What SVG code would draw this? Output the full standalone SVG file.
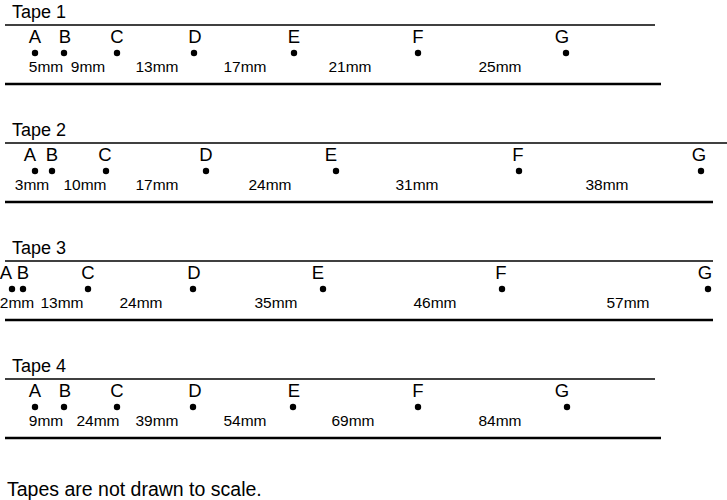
<svg xmlns="http://www.w3.org/2000/svg" width="727" height="500" viewBox="0 0 727 500">
<style>
text{font-family:"Liberation Sans",Arial,sans-serif;fill:#000}
.title{font-size:18px}
.pt{font-size:18.5px;text-anchor:middle}
.lab{font-size:15.5px;text-anchor:middle}
.top{stroke:#000;stroke-width:1.7;fill:none}
.bot{stroke:#000;stroke-width:2.4;fill:none}
.dot{fill:#000}
</style>
<rect width="727" height="500" fill="#fff"/>
<g id="tape1">
<text class="title" x="12" y="18">Tape 1</text>
<line class="top" x1="5" y1="25" x2="655" y2="25"/>
<line class="bot" x1="5" y1="84" x2="661" y2="84"/>
<g id="t1A"><text class="pt" x="35" y="43">A</text><circle class="dot" cx="35" cy="53" r="3.2"/></g>
<g id="t1B"><text class="pt" x="65" y="43">B</text><circle class="dot" cx="64" cy="53" r="3.2"/></g>
<g id="t1C"><text class="pt" x="117" y="43">C</text><circle class="dot" cx="117" cy="53" r="3.2"/></g>
<g id="t1D"><text class="pt" x="195" y="43">D</text><circle class="dot" cx="194" cy="53" r="3.2"/></g>
<g id="t1E"><text class="pt" x="294" y="43">E</text><circle class="dot" cx="294" cy="53" r="3.2"/></g>
<g id="t1F"><text class="pt" x="418" y="43">F</text><circle class="dot" cx="418" cy="53" r="3.2"/></g>
<g id="t1G"><text class="pt" x="562" y="43">G</text><circle class="dot" cx="566" cy="53" r="3.2"/></g>
<text class="lab" x="46" y="72">5mm</text>
<text class="lab" x="88" y="72">9mm</text>
<text class="lab" x="157" y="72">13mm</text>
<text class="lab" x="245" y="72">17mm</text>
<text class="lab" x="350" y="72">21mm</text>
<text class="lab" x="500" y="72">25mm</text>
</g>
<g id="tape2">
<text class="title" x="12" y="136">Tape 2</text>
<line class="top" x1="5" y1="143" x2="727" y2="143"/>
<line class="bot" x1="5" y1="202" x2="713" y2="202"/>
<g id="t2A"><text class="pt" x="30" y="161">A</text><circle class="dot" cx="35" cy="171" r="3.2"/></g>
<g id="t2B"><text class="pt" x="52" y="161">B</text><circle class="dot" cx="52" cy="171" r="3.2"/></g>
<g id="t2C"><text class="pt" x="105" y="161">C</text><circle class="dot" cx="106" cy="171" r="3.2"/></g>
<g id="t2D"><text class="pt" x="206" y="161">D</text><circle class="dot" cx="206" cy="171" r="3.2"/></g>
<g id="t2E"><text class="pt" x="331" y="161">E</text><circle class="dot" cx="336" cy="171" r="3.2"/></g>
<g id="t2F"><text class="pt" x="518" y="161">F</text><circle class="dot" cx="519" cy="171" r="3.2"/></g>
<g id="t2G"><text class="pt" x="699" y="161">G</text><circle class="dot" cx="701" cy="171" r="3.2"/></g>
<text class="lab" x="32" y="190">3mm</text>
<text class="lab" x="85" y="190">10mm</text>
<text class="lab" x="157" y="190">17mm</text>
<text class="lab" x="270" y="190">24mm</text>
<text class="lab" x="417" y="190">31mm</text>
<text class="lab" x="607" y="190">38mm</text>
</g>
<g id="tape3">
<text class="title" x="12" y="254">Tape 3</text>
<line class="top" x1="5" y1="261" x2="713" y2="261"/>
<line class="bot" x1="5" y1="320" x2="713" y2="320"/>
<g id="t3A"><text class="pt" x="6" y="279">A</text><circle class="dot" cx="12" cy="289" r="3.2"/></g>
<g id="t3B"><text class="pt" x="23" y="279">B</text><circle class="dot" cx="23" cy="289" r="3.2"/></g>
<g id="t3C"><text class="pt" x="88" y="279">C</text><circle class="dot" cx="88" cy="289" r="3.2"/></g>
<g id="t3D"><text class="pt" x="194" y="279">D</text><circle class="dot" cx="193" cy="289" r="3.2"/></g>
<g id="t3E"><text class="pt" x="318" y="279">E</text><circle class="dot" cx="323" cy="289" r="3.2"/></g>
<g id="t3F"><text class="pt" x="501" y="279">F</text><circle class="dot" cx="502" cy="289" r="3.2"/></g>
<g id="t3G"><text class="pt" x="705" y="279">G</text><circle class="dot" cx="708" cy="289" r="3.2"/></g>
<text class="lab" x="17" y="308">2mm</text>
<text class="lab" x="62" y="308">13mm</text>
<text class="lab" x="141" y="308">24mm</text>
<text class="lab" x="276" y="308">35mm</text>
<text class="lab" x="435" y="308">46mm</text>
<text class="lab" x="628" y="308">57mm</text>
</g>
<g id="tape4">
<text class="title" x="12" y="372">Tape 4</text>
<line class="top" x1="5" y1="379" x2="655" y2="379"/>
<line class="bot" x1="5" y1="438" x2="661" y2="438"/>
<g id="t4A"><text class="pt" x="35" y="397">A</text><circle class="dot" cx="35" cy="407" r="3.2"/></g>
<g id="t4B"><text class="pt" x="65" y="397">B</text><circle class="dot" cx="64" cy="407" r="3.2"/></g>
<g id="t4C"><text class="pt" x="117" y="397">C</text><circle class="dot" cx="117" cy="407" r="3.2"/></g>
<g id="t4D"><text class="pt" x="195" y="397">D</text><circle class="dot" cx="193" cy="407" r="3.2"/></g>
<g id="t4E"><text class="pt" x="294" y="397">E</text><circle class="dot" cx="293" cy="407" r="3.2"/></g>
<g id="t4F"><text class="pt" x="418" y="397">F</text><circle class="dot" cx="418" cy="407" r="3.2"/></g>
<g id="t4G"><text class="pt" x="562" y="397">G</text><circle class="dot" cx="567" cy="407" r="3.2"/></g>
<text class="lab" x="46" y="426">9mm</text>
<text class="lab" x="98" y="426">24mm</text>
<text class="lab" x="157" y="426">39mm</text>
<text class="lab" x="245" y="426">54mm</text>
<text class="lab" x="353" y="426">69mm</text>
<text class="lab" x="500" y="426">84mm</text>
</g>
<text id="note" x="7" y="496" style="font-size:19.5px">Tapes are not drawn to scale.</text>
</svg>
